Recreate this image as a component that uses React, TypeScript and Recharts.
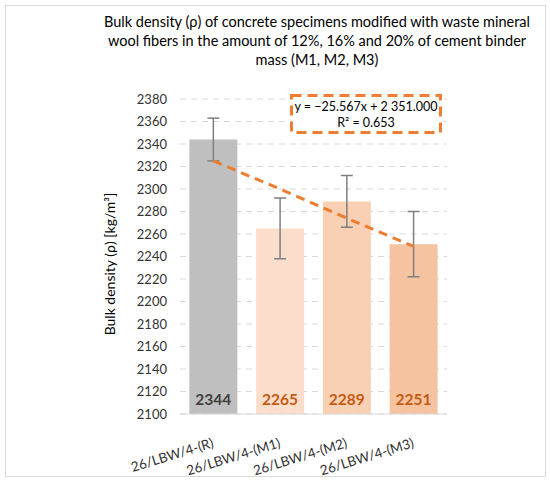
import React from "react";
import {
  ComposedChart,
  Bar,
  Line,
  XAxis,
  YAxis,
  CartesianGrid,
  ErrorBar,
  LabelList,
  Cell,
} from "recharts";

const categories = ["26/LBW/4-(R)", "26/LBW/4-(M1)", "26/LBW/4-(M2)", "26/LBW/4-(M3)"];
const density = [2344, 2265, 2289, 2251];
const deviation = [19, 27, 23, 29];
const trend = [2325, 2300, 2274, 2249];
const yTicks = [2100, 2120, 2140, 2160, 2180, 2200, 2220, 2240, 2260, 2280, 2300, 2320, 2340, 2360, 2380];

const barColors = ["#BFBFBF", "#FADDCB", "#F9D0B4", "#F5C3A0"];
const labelColors = ["#404040", "#C55A11", "#C55A11", "#C55A11"];

const titleLines = [
  "Bulk density (\u03c1) of concrete specimens modified with waste mineral",
  "wool fibers in the amount of 12%, 16% and 20% of cement binder",
  "mass (M1, M2, M3)",
];

const data = categories.map((name, i) => ({
  name,
  value: density[i],
  err: deviation[i],
  trend: trend[i],
}));

const FONT = "Lato, 'Liberation Sans', sans-serif";

const XTick = (props: any) => {
  const { x, y, payload } = props;
  return (
    <text
      x={0}
      y={0}
      transform={`translate(${x + 1},${y + 25}) rotate(-17)`}
      textAnchor="end"
      fill="#333333"
      fontSize={13.5}
      fontFamily={FONT}
    >
      {payload.value}
    </text>
  );
};

const BarValue = (props: any) => {
  const { x, y, width, height, value, index } = props;
  return (
    <text
      x={x + width / 2}
      y={y + height - 9}
      textAnchor="middle"
      fill={labelColors[index]}
      fontSize={15.5}
      fontWeight="bold"
      fontFamily={FONT}
    >
      {value}
    </text>
  );
};

export default function App() {
  return (
    <div style={{ position: "absolute", left: 0, top: 0, width: 550, height: 482, background: "#fff" }}>
      <ComposedChart
        width={550}
        height={482}
        data={data}
        margin={{ top: 99, right: 103, left: 120, bottom: 18 }}
        barCategoryGap="14%"
      >
        <CartesianGrid vertical={false} stroke="#D9D9D9" strokeDasharray="6 5" />
        <XAxis
          dataKey="name"
          height={50}
          tickLine={false}
          axisLine={{ stroke: "#D9D9D9" }}
          tick={<XTick />}
          interval={0}
        />
        <YAxis
          width={60}
          domain={[2100, 2380]}
          ticks={yTicks}
          axisLine={false}
          tickLine={false}
          tickMargin={7}
          tick={{ fill: "#333333", fontSize: 13, fontFamily: FONT }}
          interval={0}
        />
        <Bar dataKey="value" isAnimationActive={false}>
          {data.map((d, i) => (
            <Cell key={d.name} fill={barColors[i]} />
          ))}
          <ErrorBar dataKey="err" width={6} stroke="#7F7F7F" strokeWidth={1.5} />
          <LabelList dataKey="value" content={<BarValue />} />
        </Bar>
        <Line
          dataKey="trend"
          stroke="#ED7D31"
          strokeWidth={3}
          strokeDasharray="9 6"
          dot={false}
          activeDot={false}
          isAnimationActive={false}
        />
      </ComposedChart>
      <svg
        width={550}
        height={482}
        style={{ position: "absolute", left: 0, top: 0, pointerEvents: "none" }}
      >
        <rect x={5.5} y={5.5} width={540} height={471} fill="none" stroke="#D9D9D9" />
        {titleLines.map((line, i) => (
          <text
            key={i}
            x={317}
            y={27 + i * 19.2}
            textAnchor="middle"
            fill="#000"
            fontSize={14.5}
            fontFamily={FONT}
          >
            {line}
          </text>
        ))}
        <text
          transform="translate(115,264) rotate(-90)"
          textAnchor="middle"
          fill="#000"
          fontSize={14}
          fontFamily={FONT}
        >
          {"Bulk density (\u03c1) [kg/m\u00b3]"}
        </text>
        <rect
          x={291.5}
          y={95.5}
          width={149}
          height={37}
          fill="#fff"
          stroke="#ED7D31"
          strokeWidth={3}
          strokeDasharray="10 6"
        />
        <text x={366} y={111} textAnchor="middle" fill="#000" fontSize={12.5} fontFamily={FONT}>
          {"y = \u221225.567x + 2 351.000"}
        </text>
        <text x={366} y={127} textAnchor="middle" fill="#000" fontSize={12.5} fontFamily={FONT}>
          {"R\u00b2 = 0.653"}
        </text>
      </svg>
    </div>
  );
}
